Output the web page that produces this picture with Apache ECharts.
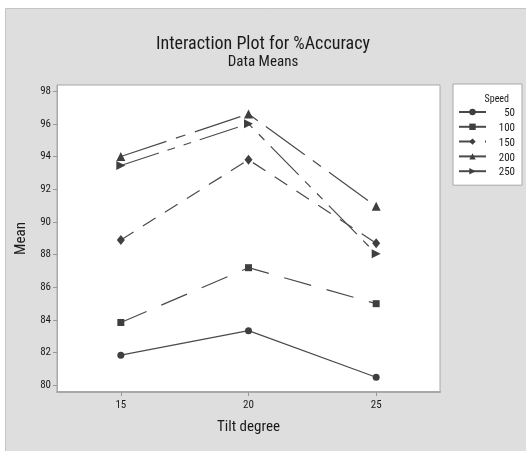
<!DOCTYPE html>
<html><head><meta charset="utf-8">
<script src="https://cdn.jsdelivr.net/npm/echarts@6/dist/echarts.min.js"></script>
<style>html,body{margin:0;padding:0;background:#fff}#c{width:526px;height:451px}</style>
</head><body><div id="c"></div>
<script>
const tilt = [15, 20, 25];
const speeds = ['50', '100', '150', '200', '250'];
const mean50 = [81.85, 83.35, 80.5];
const mean100 = [83.85, 87.2, 85.0];
const mean150 = [88.9, 93.8, 88.7];
const mean200 = [94.0, 96.6, 90.95];
const mean250 = [93.45, 96.0, 88.05];
const yTicks = [80, 82, 84, 86, 88, 90, 92, 94, 96, 98];
const xTicks = [15, 20, 25];

const FONT = "'Liberation Sans Narrow','Arial Narrow','Roboto Condensed',sans-serif";
const values = [mean50, mean100, mean150, mean200, mean250];
const symbols = ['circle', 'rect', 'diamond', 'triangle', 'triangle'];
const sizes = [7, 7, [8, 10], 9, 9];
const rotates = [0, 0, 0, 0, -90];
const dashes = ['solid', [28, 16], [15, 11], [48, 10, 10, 10], [40, 9, 8, 9, 8, 9]];

const chart = echarts.init(document.getElementById('c'), null, {renderer: 'canvas'});
const series = speeds.map((s, i) => ({
  name: s,
  type: 'line',
  data: tilt.map((t, j) => [t, values[i][j]]),
  symbol: symbols[i],
  symbolSize: sizes[i],
  symbolRotate: rotates[i],
  showAllSymbol: true,
  lineStyle: {color: '#4a4a4a', width: 1.2, type: dashes[i]},
  itemStyle: {color: '#3f3f3f'},
  emphasis: {disabled: true},
  animation: false
}));

chart.setOption({
  animation: false,
  backgroundColor: '#fff',
  graphic: [
    {type: 'rect', z: -10, shape: {x: 5.5, y: 8.5, width: 540, height: 460},
     style: {fill: '#dedede', stroke: '#c4c4c4', lineWidth: 1}}
  ],
  title: [
    {text: 'Interaction Plot for %Accuracy', left: 'center', top: 30,
     textStyle: {fontFamily: FONT, fontSize: 18, fontWeight: 'normal', color: '#1a1a1a'}},
    {text: 'Data Means', left: 'center', top: 50,
     textStyle: {fontFamily: FONT, fontSize: 15, fontWeight: 'normal', color: '#1a1a1a'}},
    {text: 'Speed', right: 12, top: 89, z: 10,
     textStyle: {fontFamily: FONT, fontSize: 10, fontWeight: 'normal', color: '#1a1a1a'}}
  ],
  legend: {
    orient: 'vertical', left: 453, top: 84,
    data: speeds,
    itemWidth: 27, itemHeight: 8, itemGap: 0.8,
    padding: [21, 7, 7, 5],
    backgroundColor: '#fff', borderColor: '#a8a8a8', borderWidth: 1,
    selectedMode: false,
    formatter: '{a|{name}}',
    textStyle: {fontFamily: FONT, fontSize: 11, color: '#1a1a1a', lineHeight: 12,
      rich: {a: {width: 24, lineHeight: 12, padding: [3, 0, 0, 0], align: 'right', fontFamily: FONT, fontSize: 11, color: '#1a1a1a'}}}
  },
  grid: {left: 57, right: 86, top: 85, bottom: 59, show: true, borderColor: '#a8a8a8', borderWidth: 1, backgroundColor: '#fff'},
  xAxis: {
    type: 'value', min: 12.5, max: 27.5,
    name: 'Tilt degree', nameLocation: 'middle', nameGap: 28,
    nameTextStyle: {fontFamily: FONT, fontSize: 15, color: '#1a1a1a'},
    axisLine: {show: true, lineStyle: {color: '#a8a8a8', width: 2}},
    axisTick: {show: true, length: 4, customValues: xTicks, lineStyle: {color: '#999'}},
    axisLabel: {customValues: xTicks, fontFamily: FONT, fontSize: 11, color: '#1a1a1a', margin: 8},
    splitLine: {show: false}
  },
  yAxis: {
    type: 'value', min: 79.6, max: 98.37,
    name: 'Mean', nameLocation: 'middle', nameGap: 19, nameRotate: 90,
    nameTextStyle: {fontFamily: FONT, fontSize: 15, color: '#1a1a1a'},
    axisLine: {show: true, lineStyle: {color: '#a8a8a8', width: 1}},
    axisTick: {show: true, length: 4, customValues: yTicks, lineStyle: {color: '#999'}},
    axisLabel: {customValues: yTicks, fontFamily: FONT, fontSize: 11, color: '#1a1a1a', margin: 6},
    splitLine: {show: false}
  },
  series: series
});
</script></body></html>
